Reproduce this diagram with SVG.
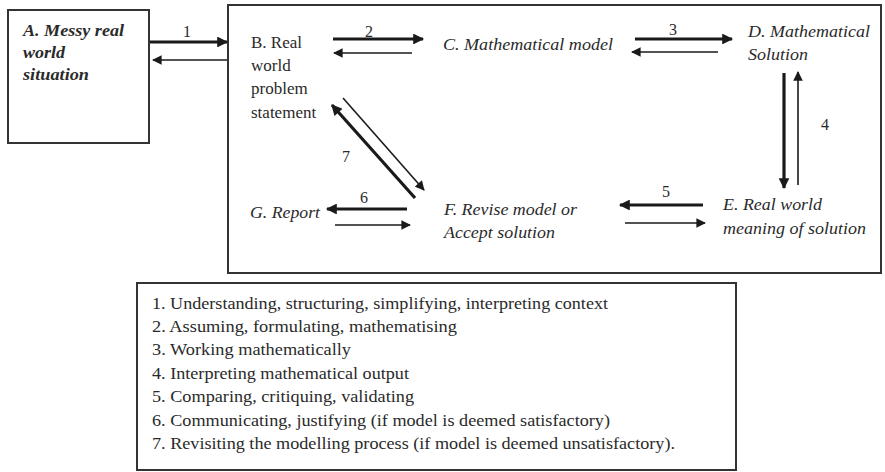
<svg xmlns="http://www.w3.org/2000/svg" width="885" height="472" viewBox="0 0 885 472">
<style>
.box{fill:none;stroke:#333;stroke-width:2}
text{font-family:'Liberation Serif','Times New Roman',serif;fill:#2a2a2a}
.t{font-size:17px}
.i{font-style:italic}
.b{font-weight:bold}
.lg{font-size:16.5px}
.n{font-size:16px}
.thick{stroke:#1a1a1a;stroke-width:3.2;fill:none}
.thin{stroke:#1a1a1a;stroke-width:1.6;fill:none}
</style>
<defs>
<marker id="ah" viewBox="0 0 10 10" refX="9" refY="5" markerWidth="4" markerHeight="3.4" orient="auto" markerUnits="strokeWidth">
<path d="M0,0 L10,5 L0,10 Z" fill="#1a1a1a"/>
</marker>
<marker id="ahs" viewBox="0 0 10 10" refX="9" refY="5" markerWidth="7" markerHeight="6" orient="auto" markerUnits="strokeWidth">
<path d="M0,0 L10,5 L0,10 Z" fill="#1a1a1a"/>
</marker>
</defs>
<rect x="0" y="0" width="885" height="472" fill="#fff"/>
<g id="A">
<rect class="box" x="8" y="10" width="141" height="133"/>
<text class="t i b" x="23" y="36" textLength="101" lengthAdjust="spacingAndGlyphs">A. Messy real</text>
<text class="t i b" x="23" y="58" textLength="42" lengthAdjust="spacingAndGlyphs">world</text>
<text class="t i b" x="23" y="80" textLength="66" lengthAdjust="spacingAndGlyphs">situation</text>
</g>
<g id="main">
<rect class="box" x="228" y="5" width="653" height="268"/>
</g>
<g id="B">
<text class="t" x="251" y="48">B. Real</text>
<text class="t" x="251" y="71">world</text>
<text class="t" x="251" y="94">problem</text>
<text class="t" x="251" y="118">statement</text>
</g>
<g id="C"><text class="t i" x="443" y="50" textLength="170" lengthAdjust="spacingAndGlyphs">C. Mathematical model</text></g>
<g id="D">
<text class="t i" x="748" y="37" textLength="122" lengthAdjust="spacingAndGlyphs">D. Mathematical</text>
<text class="t i" x="748" y="60" textLength="60" lengthAdjust="spacingAndGlyphs">Solution</text>
</g>
<g id="E">
<text class="t i" x="723" y="210" textLength="99" lengthAdjust="spacingAndGlyphs">E. Real world</text>
<text class="t i" x="723" y="234" textLength="143" lengthAdjust="spacingAndGlyphs">meaning of solution</text>
</g>
<g id="F">
<text class="t i" x="444" y="215" textLength="133" lengthAdjust="spacingAndGlyphs">F. Revise model or</text>
<text class="t i" x="444" y="238" textLength="111" lengthAdjust="spacingAndGlyphs">Accept solution</text>
</g>
<g id="G"><text class="t i" x="250" y="218" textLength="70" lengthAdjust="spacingAndGlyphs">G. Report</text></g>
<g id="connectors">
<line class="thick" x1="150" y1="42" x2="227" y2="42" marker-end="url(#ah)"/>
<line class="thin" x1="227" y1="60" x2="153" y2="60" marker-end="url(#ahs)"/>
<line class="thick" x1="333" y1="39" x2="423" y2="39" marker-end="url(#ah)"/>
<line class="thin" x1="412" y1="53" x2="334" y2="53" marker-end="url(#ahs)"/>
<line class="thick" x1="635" y1="39" x2="732" y2="39" marker-end="url(#ah)"/>
<line class="thin" x1="718" y1="52" x2="632" y2="52" marker-end="url(#ahs)"/>
<line class="thick" x1="784" y1="73" x2="784" y2="188" marker-end="url(#ah)"/>
<line class="thin" x1="798" y1="185" x2="798" y2="72" marker-end="url(#ahs)"/>
<line class="thick" x1="703" y1="205" x2="620" y2="205" marker-end="url(#ah)"/>
<line class="thin" x1="625" y1="223" x2="705" y2="223" marker-end="url(#ahs)"/>
<line class="thick" x1="407" y1="209" x2="327" y2="209" marker-end="url(#ah)"/>
<line class="thin" x1="335" y1="225" x2="410" y2="225" marker-end="url(#ahs)"/>
<line class="thick" x1="415" y1="198" x2="332" y2="105" marker-end="url(#ah)"/>
<line class="thin" x1="343" y1="98" x2="424" y2="190" marker-end="url(#ahs)"/>
<text class="n" x="183" y="37">1</text>
<text class="n" x="365" y="37">2</text>
<text class="n" x="669" y="35">3</text>
<text class="n" x="821" y="130">4</text>
<text class="n" x="662" y="197">5</text>
<text class="n" x="360" y="203">6</text>
<text class="n" x="342" y="162">7</text>
</g>
<g id="legend">
<rect class="box" x="137" y="283" width="599" height="187"/>
<text class="lg" x="152" y="309" textLength="456" lengthAdjust="spacingAndGlyphs">1. Understanding, structuring, simplifying, interpreting context</text>
<text class="lg" x="152" y="332" textLength="305" lengthAdjust="spacingAndGlyphs">2. Assuming, formulating, mathematising</text>
<text class="lg" x="152" y="355" textLength="199" lengthAdjust="spacingAndGlyphs">3. Working mathematically</text>
<text class="lg" x="152" y="379" textLength="257" lengthAdjust="spacingAndGlyphs">4. Interpreting mathematical output</text>
<text class="lg" x="152" y="402" textLength="262" lengthAdjust="spacingAndGlyphs">5. Comparing, critiquing, validating</text>
<text class="lg" x="152" y="426" textLength="458" lengthAdjust="spacingAndGlyphs">6. Communicating, justifying (if model is deemed satisfactory)</text>
<text class="lg" x="152" y="449" textLength="523" lengthAdjust="spacingAndGlyphs">7. Revisiting the modelling process (if model is deemed unsatisfactory).</text>
</g>
</svg>
